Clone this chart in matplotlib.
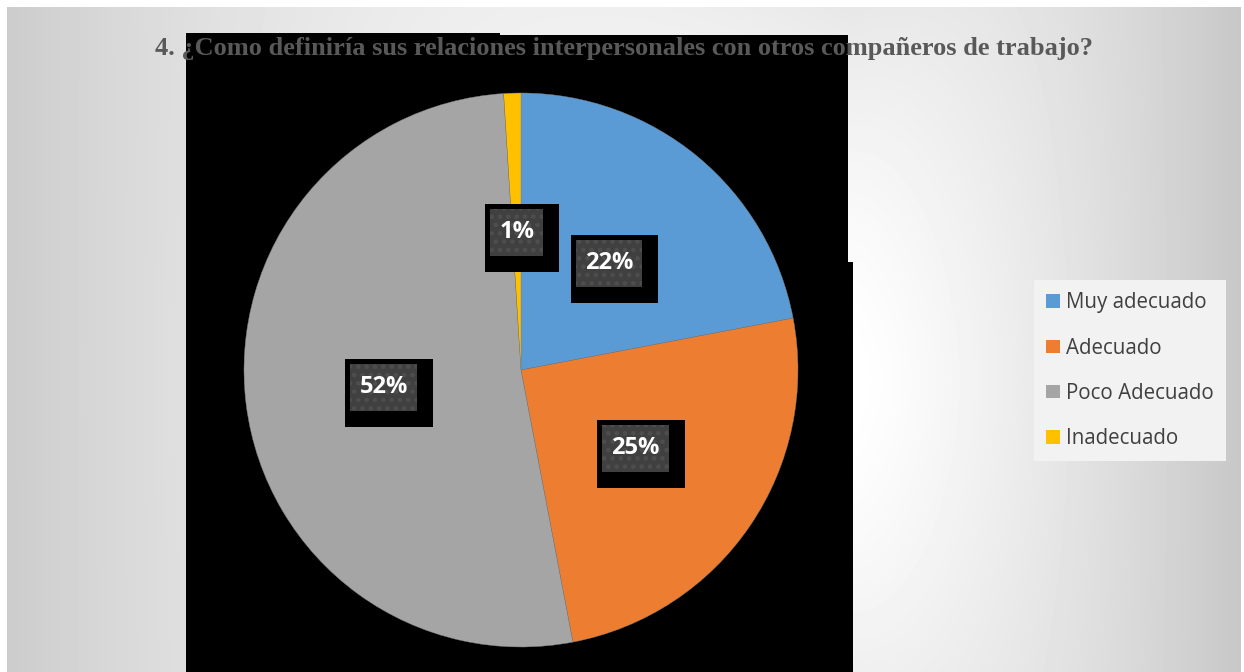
import numpy as np
import matplotlib.pyplot as plt
from matplotlib.patches import Rectangle, Polygon

labels = ['Muy adecuado', 'Adecuado', 'Poco Adecuado', 'Inadecuado']
values = [22, 25, 52, 1]
colors = ['#5b9bd5', '#ed7d31', '#a5a5a5', '#ffc000']
title = '4. ¿Como definiría sus relaciones interpersonales con otros compañeros de trabajo?'

W, H = 1244, 672
fig = plt.figure(figsize=(W / 100, H / 100), dpi=100)
fig.patch.set_facecolor('white')
plt.rcParams['hatch.linewidth'] = 2.0


def fx(x):
    return x / W


def fy(y):
    # pixel row (from top) -> figure fraction
    return 1 - y / H


# grey gradient panel, lightest just right of the chart block
bg = fig.add_axes([fx(7), 0, fx(1241) - fx(7), fy(7)])
yy, xx = np.mgrid[7:672, 7:1241].astype(float)
cx, cy = 855, 380
left = xx < cx
t = np.where(left, (cx - xx) / (cx - 7), (xx - cx) / (1241 - cx))
drop_x = np.where(left, 51 * t ** 2, 56 * t ** 1.25)
drop_y = np.where(yy < cy, 24 * ((cy - yy) / (cy - 7)) ** 1.6,
                  16 * ((yy - cy) / (672 - cy)) ** 1.6)
drop = drop_x + drop_y * (1 - t) ** 2
shade = np.clip(255 - drop, 0, 255) / 255
bg.imshow(shade, cmap='gray', vmin=0, vmax=1, aspect='auto', interpolation='bilinear')
bg.axis('off')

# black block behind the pie
blk = [(186, 33), (500, 33), (500, 35), (848, 35), (848, 262), (853, 262),
       (853, 672), (186, 672)]
fig.add_artist(Polygon([(fx(x), fy(y)) for x, y in blk], closed=True,
                       transform=fig.transFigure, facecolor='black',
                       edgecolor='none', zorder=1))

# pie: centre (521, 370) px, radius 277 px
R = 277
half = 300
ax = fig.add_axes([fx(521 - half), fy(370 + half), fx(2 * half), 2 * half / H])
ax.set_zorder(2)
wedges, texts, autotexts = ax.pie(values, colors=colors, startangle=90,
                                  counterclock=False, radius=1,
                                  autopct='%1.0f%%', pctdistance=0.5,
                                  wedgeprops=dict(linewidth=0.3, edgecolor='#7f7f7f'))
ax.set_xlim(-half / R, half / R)
ax.set_ylim(-half / R, half / R)
ax.set_aspect('equal')
ax.axis('off')

lab_font = dict(color='white', fontsize=17, fontweight='bold',
                family=['Open Sans', 'DejaVu Sans'])
for at in autotexts:
    at.set(**lab_font)

fig.canvas.draw()
renderer = fig.canvas.get_renderer()
inv = fig.transFigure.inverted()
for at in autotexts:
    bb = at.get_window_extent(renderer)
    # inner patterned box around the number, black shadow box to bottom-right
    x0, x1 = bb.x0 - 9, bb.x1 + 9
    y0, y1 = bb.y0 - 12, bb.y1 + 11
    ox0, oy0 = inv.transform((x0 - 5, y0 - 16))
    ox1, oy1 = inv.transform((x1 + 16, y1 + 5))
    ix0, iy0 = inv.transform((x0, y0))
    ix1, iy1 = inv.transform((x1, y1))
    fig.add_artist(Rectangle((ox0, oy0), ox1 - ox0, oy1 - oy0,
                             transform=fig.transFigure, facecolor='black',
                             edgecolor='none', zorder=4))
    fig.add_artist(Rectangle((ix0, iy0), ix1 - ix0, iy1 - iy0,
                             transform=fig.transFigure, facecolor='#404040',
                             edgecolor='#4e4e4e', linewidth=0, hatch='..',
                             zorder=5))
    tx, ty = inv.transform(((bb.x0 + bb.x1) / 2, (bb.y0 + bb.y1) / 2))
    fig.text(tx, ty, at.get_text(), ha='center', va='center', zorder=7, **lab_font)
    at.set_visible(False)

leg = fig.legend(wedges, labels, loc='upper left',
                 bbox_to_anchor=(fx(1034), fy(280)), bbox_transform=fig.transFigure,
                 frameon=True, fancybox=False, facecolor='#f2f2f2', edgecolor='none',
                 framealpha=1, labelcolor='#404040',
                 prop=dict(family=['Open Sans', 'DejaVu Sans'], size=14.8),
                 handlelength=0.65, handleheight=0.65, handletextpad=0.3,
                 labelspacing=1.18, borderpad=0.6, borderaxespad=0)
leg.set_zorder(8)
for h in leg.legend_handles:
    h.set_linewidth(0)

fig.text(fx(624), fy(48), title, ha='center', va='center', fontsize=19,
         fontweight='bold', family=['Liberation Serif', 'DejaVu Serif'],
         color='#595959', zorder=10)

fig.savefig('out.png', dpi=100, facecolor=fig.get_facecolor())
